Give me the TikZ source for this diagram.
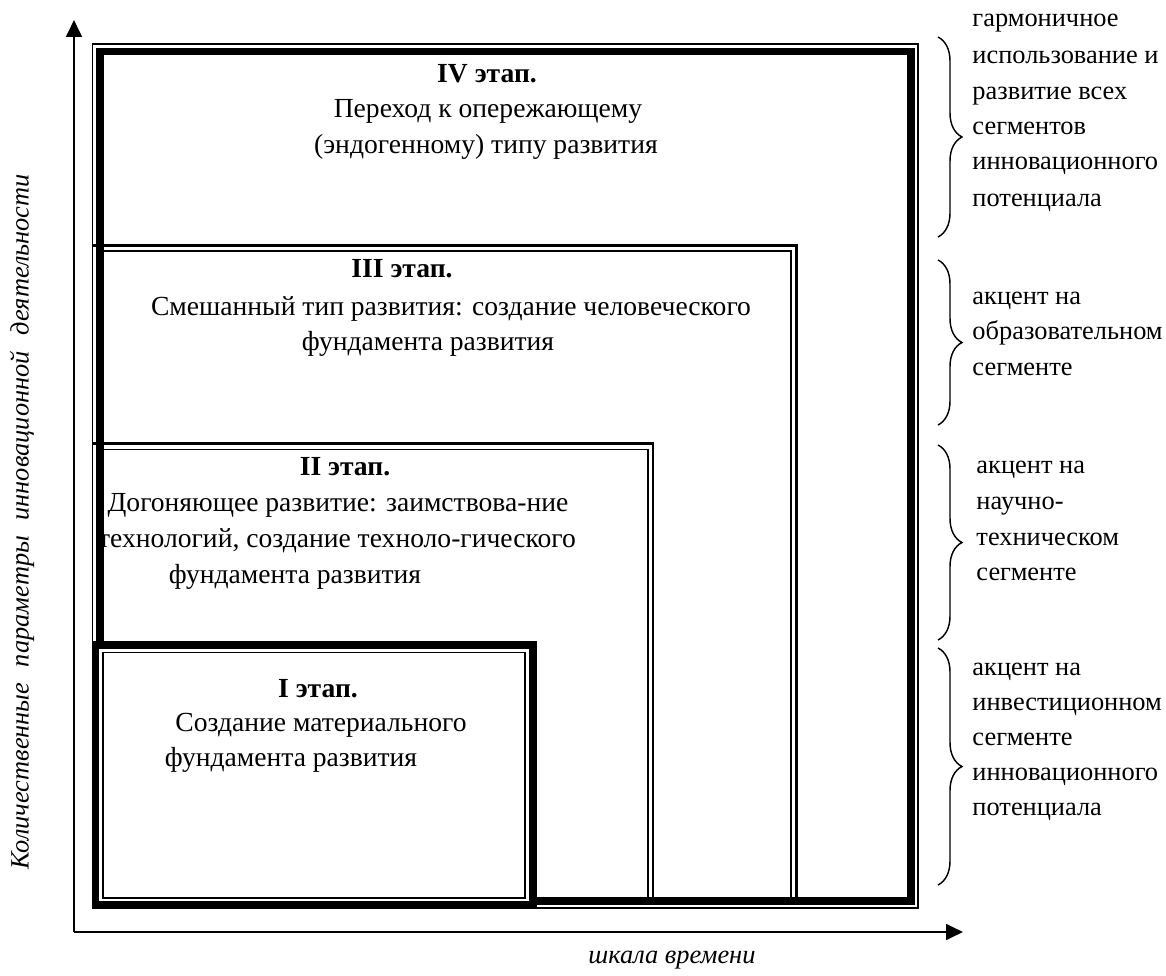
\documentclass[tikz,border=0pt]{standalone}
\usepackage{fontspec}
\setmainfont{Liberation Serif}
\usetikzlibrary{arrows.meta,decorations.pathreplacing}
\begin{document}
\begin{tikzpicture}[x=0.4167pt,y=-0.4167pt,line join=miter,
	thinln/.style={line width=0.6pt},
	midln/.style={line width=1.2pt},
	thickln/.style={line width=3pt},
	axis/.style={line width=1pt,-{Triangle[length=7pt,width=6.5pt]}},
	brc/.style={line width=0.6pt,decorate,decoration={brace,amplitude=10pt}},
	txt/.style={anchor=base,inner sep=0pt,font=\fontsize{11.5}{15}\selectfont},
	lbl/.style={anchor=base west,inner sep=0pt,font=\fontsize{11}{15}\selectfont}]
	\useasboundingbox (0,0) rectangle (1166,976);
	%Оси
	\path (74,932) coordinate (O)
	(74,20) coordinate (Y)
	(963,932) coordinate (X);
	\draw[axis] (O)--(Y);
	\draw[axis] (O)--(X);
	\node[font=\fontsize{11}{15}\selectfont\itshape,rotate=90] (ylab) at (22,522)
	{\makebox[290pt][s]{Количественные параметры инновационной деятельности}};
	\node[font=\fontsize{11}{15}\selectfont\itshape] (xlab) at (672,960) {шкала времени};
	%IV этап
	\draw[thinln] (92.5,44) rectangle (918,908);
	\draw[thickln] (100,51.5) rectangle (911,901);
	%III этап
	\draw[midln] (93,245.5) -| (796.5,901);
	\draw[thinln] (104,251) -| (791,901);
	%II этап
	\draw[midln] (93,443.5) -| (653,901);
	\draw[thinln] (104,449.5) -| (648,901);
	%I этап
	\filldraw[thickln,fill=white] (95.5,645) rectangle (533,905);
	\draw[thinln] (103,652.5) rectangle (525,898);
	%Тексты этапов
	\foreach \x/\y/\t [count=\i] in {
		487/83/{\textbf{IV этап.}},
		488/118/{Переход к опережающему},
		486/154/{(эндогенному) типу развития},
		402/278/{\textbf{III этап.}},
		451/315/{Смешанный тип развития: создание человеческого},
		428/351/{фундамента развития},
		345/475/{\textbf{II этап.}},
		338/511/{Догоняющее развитие: заимствова-ние},
		337/547/{технологий, создание техноло-гического},
		295/583/{фундамента развития},
		318/697/{\textbf{I этап.}},
		321/731/{Создание материального},
		291/766/{фундамента развития}}{
		\node[txt] (s\i) at (\x,\y) {\t};}
	%Скобки
	\foreach \a/\b [count=\i] in {37/237,260/425,445/640,648/885}{
		\draw[brc] (938,\a) coordinate (bt\i) -- (938,\b) coordinate (bb\i);}
	%Пояснения
	\foreach \x/\y/\t [count=\i] in {
		972/27/{гармоничное},
		972/64/{использование и},
		972/100/{развитие всех},
		972/135/{сегментов},
		972/170/{инновационного},
		972/207/{потенциала},
		972/305/{акцент на},
		972/340/{образовательном},
		972/375/{сегменте},
		976/473/{акцент на},
		976/509/{научно-},
		976/545/{техническом},
		976/580/{сегменте},
		972/675/{акцент на},
		972/710/{инвестиционном},
		972/745/{сегменте},
		972/780/{инновационного},
		972/815/{потенциала}}{
		\node[lbl] (p\i) at (\x,\y) {\t};}
\end{tikzpicture}
\end{document}
